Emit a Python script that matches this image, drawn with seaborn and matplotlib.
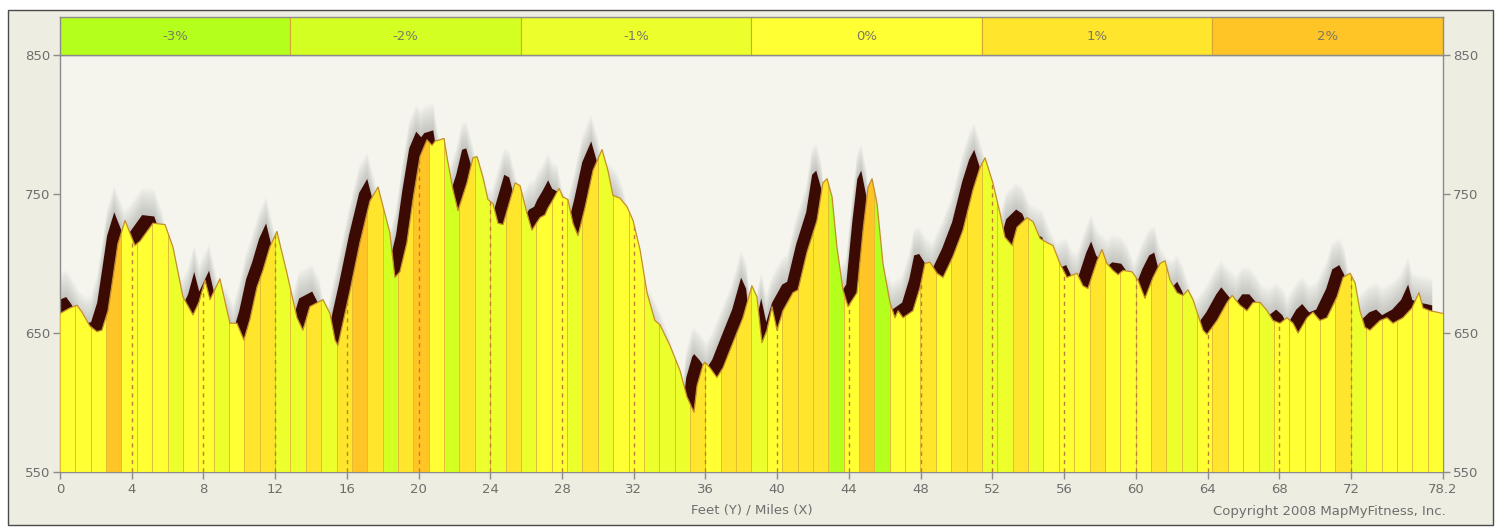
import matplotlib
matplotlib.use("Agg")
import matplotlib.pyplot as plt
from matplotlib.patches import Polygon, Rectangle
import numpy as np
import pandas as pd
import seaborn as sns

# elevation profile
miles = [0.00, 0.56, 0.95, 1.23, 1.67, 2.06, 2.34, 2.68, 2.96, 3.23, 3.63, 4.18, 4.46, 4.85,
         5.19, 5.86, 6.30, 6.86, 7.42, 7.75, 8.09, 8.37, 8.92, 9.48, 9.87, 10.26, 10.60,
         10.99, 11.32, 11.71, 12.10, 12.66, 13.22, 13.55, 13.94, 14.67, 15.06, 15.34, 15.50,
         16.17, 16.73, 17.29, 17.74, 18.40, 18.68, 18.96, 19.35, 19.69, 20.08, 20.47, 20.75,
         20.92, 21.19, 21.42, 21.58, 21.92, 22.20, 22.70, 23.03, 23.26, 23.59, 23.87, 24.15,
         24.43, 24.71, 25.38, 25.66, 26.05, 26.32, 26.77, 27.05, 27.22, 27.50, 27.83, 28.05,
         28.33, 28.61, 28.89, 29.28, 29.73, 30.23, 30.56, 30.84, 31.23, 31.62, 31.96, 32.35,
         32.74, 33.18, 33.46, 34.02, 34.58, 34.97, 35.36, 35.53, 35.86, 35.97, 36.25, 36.64,
         36.98, 37.53, 38.09, 38.59, 38.87, 39.15, 39.43, 39.71, 39.99, 40.32, 40.88, 41.16,
         41.66, 42.22, 42.55, 42.78, 43.06, 43.33, 43.67, 43.95, 44.45, 44.79, 45.07, 45.29,
         45.57, 45.90, 46.29, 46.57, 46.74, 47.02, 47.57, 47.97, 48.24, 48.52, 48.91, 49.25,
         49.80, 50.36, 50.92, 51.31, 51.59, 52.03, 52.43, 52.70, 53.10, 53.37, 53.93, 54.27,
         54.66, 55.05, 55.38, 55.77, 56.16, 56.72, 57.05, 57.33, 57.84, 58.11, 58.39, 58.73,
         59.01, 59.29, 59.79, 60.12, 60.51, 60.96, 61.35, 61.63, 61.91, 62.30, 62.63, 62.91,
         63.19, 63.75, 63.97, 64.53, 65.09, 65.37, 65.81, 66.20, 66.54, 66.93, 67.32, 67.65,
         68.04, 68.43, 68.77, 69.05, 69.55, 69.88, 70.27, 70.66, 71.22, 71.56, 71.95, 72.23,
         72.50, 72.78, 73.06, 73.62, 74.01, 74.34, 74.90, 75.40, 75.79, 76.02, 76.41, 76.80,
         77.13]
elevation = [664, 668, 670, 665, 655, 651, 652, 666, 690, 714, 731, 713, 716, 723,
             729, 728, 712, 676, 663, 672, 688, 674, 689, 657, 657, 645, 660,
             683, 695, 712, 723, 693, 661, 652, 669, 674, 664, 645, 641,
             680, 715, 745, 755, 722, 690, 694, 715, 746, 777, 789, 785,
             788, 789, 790, 777, 753, 738, 758, 776, 777, 762, 746, 743,
             729, 728, 758, 756, 736, 724, 733, 735, 740, 746, 754, 748,
             746, 729, 720, 740, 767, 782, 767, 749, 747, 741, 731, 710,
             679, 659, 656, 641, 623, 604, 593, 612, 627, 629, 625, 618,
             625, 643, 661, 684, 676, 643, 652, 669, 652, 666, 679, 681,
             708, 731, 758, 761, 748, 712, 681, 669, 679, 724, 755, 761,
             743, 700, 672, 661, 666, 661, 666, 683, 700, 701, 693, 690,
             705, 724, 753, 769, 776, 758, 736, 719, 713, 726, 733, 730,
             718, 715, 713, 700, 690, 693, 684, 682, 702, 710, 700, 695,
             692, 695, 694, 688, 675, 690, 700, 702, 688, 679, 677, 681,
             674, 652, 649, 659, 672, 677, 670, 666, 672, 672, 666, 659,
             657, 661, 657, 650, 661, 665, 659, 661, 676, 690, 693, 686,
             666, 654, 652, 659, 661, 657, 661, 668, 679, 668, 666, 665,
             664]

# grade (%) of each equal-length segment of the route
segment_grades = [0, 0, 0, 2, 0, 0, 0, -1, 0, 0,
                  -1, 0, 1, 1, -1, -1, 1, -1, 1, 2,
                  1, -2, 1, 2, 0, -2, 1, -1, -1, 1,
                  -1, 0, 0, -1, 1, -1, 0, 0, -1, -1,
                  -1, 1, 0, 1, 1, -1, 0, 1, 1, 1,
                  -3, 0, 2, -3, 0, 0, 1, 0, 1, 1,
                  -1, -1, 1, -1, 0, 0, 0, 1, 0, 0,
                  0, 1, -1, -1, 0, 1, 0, 0, -1, 0,
                  0, 0, 0, 1, -1, 0, 0, 0, 0, 0]

grade_levels = [-3, -2, -1, 0, 1, 2]
grade_labels = ["-3%", "-2%", "-1%", "0%", "1%", "2%"]
grade_colors = ["#B4FF1C", "#D4FF22", "#ECFF2C", "#FFFF33", "#FFE52C", "#FFC425"]

x_end = 77.13
x_ticks = [0, 4, 8, 12, 16, 20, 24, 28, 32, 36, 40, 44, 48, 52, 56, 60, 64, 68, 72, x_end]
x_tick_labels = ["0", "4", "8", "12", "16", "20", "24", "28", "32", "36", "40", "44",
                 "48", "52", "56", "60", "64", "68", "72", "78.2"]
y_ticks = [550, 650, 750, 850]

sns.set_style("white")
plt.rcParams["font.family"] = ["DejaVu Sans"]

label_col = "#6E6E6E"
fig = plt.figure(figsize=(14.95, 5.28), dpi=100)
fig.patch.set_facecolor("white")
fig.add_artist(Rectangle((0.0054, 0.0057), 0.9933, 0.9754, transform=fig.transFigure,
                         facecolor="#EDEDE1", edgecolor="#4A4A4A", lw=1, zorder=-5))

ax = fig.add_axes([0.0401, 0.1061, 0.9251, 0.7897])
ax.set_facecolor("#F5F5EE")
x = np.array(miles)
y = np.array(elevation)

# shadow: soft gray haze above, then a dark copy of the profile shifted up-left
dx, dy = 0.63, 6.2
for k in range(1, 16):
    ax.fill_between(x - dx, 550, y + dy + k * 1.3, color="#8A8A8A", alpha=0.033,
                    lw=0, zorder=1)
ax.fill_between(x - dx, 550, y + dy, color="#3B0A02", lw=0, zorder=2)

# profile area clipped into grade-coloured segments
clip = Polygon([(x[0], 550)] + list(zip(x, y)) + [(x[-1], 550)], closed=True,
               transform=ax.transData, facecolor="none", edgecolor="none")
seg_w = x_end / len(segment_grades)
seg_left = np.arange(len(segment_grades)) * seg_w
seg_colors = [grade_colors[grade_levels.index(g)] for g in segment_grades]
bars = ax.bar(seg_left, 300, width=seg_w, bottom=550, align="edge", color=seg_colors,
              edgecolor="#E2BE33", linewidth=0.7, zorder=3)
for b in bars:
    b.set_clip_path(clip)
vl = ax.vlines(x_ticks[1:-1], 550, 850, colors="#BF7F30", linestyles=(0, (3, 3)),
               lw=1, zorder=3.5)
vl.set_clip_path(clip)

prof = pd.DataFrame({"mile": miles, "feet": elevation})
sns.lineplot(data=prof, x="mile", y="feet", color="#C48E2C", lw=0.9, zorder=4, ax=ax)

ax.set_xlim(0, x_end)
ax.set_ylim(550, 850)
ax.set_xticks(x_ticks)
ax.set_xticklabels(x_tick_labels)
ax.set_yticks(y_ticks)
ax.set_xlabel("")
ax.set_ylabel("")
ax.tick_params(axis="both", colors="#8C8C8C", labelcolor=label_col, labelsize=9.5,
               length=5, width=1, direction="out")
ax.tick_params(axis="y", left=True, right=True, labelleft=True, labelright=True, pad=2)
ax.tick_params(axis="x", bottom=True, pad=3)
for s in ax.spines.values():
    s.set_color("#8C8C8C")
    s.set_linewidth(1)

# grade legend strip
lax = fig.add_axes([0.0401, 0.8958, 0.9251, 0.0720])
leg = pd.DataFrame({"grade": grade_labels, "v": [1] * 6})
sns.barplot(data=leg, x="grade", y="v", hue="grade", palette=grade_colors, width=1,
            saturation=1, legend=False, edgecolor="#D9A531", linewidth=0.8, ax=lax)
lax.set_xlim(-0.5, 5.5)
lax.set_ylim(0, 1)
for i, t in enumerate(grade_labels):
    lax.text(i, 0.5, t, ha="center", va="center", fontsize=9.5, color="#7A7A62")
lax.set_xticks([])
lax.set_yticks([])
lax.set_xlabel("")
lax.set_ylabel("")
for s in lax.spines.values():
    s.set_color("#8C8C8C")
    s.set_linewidth(1)

fig.text(0.5030, 0.034, "Feet (Y) / Miles (X)", ha="center", va="center",
         fontsize=9.5, color=label_col)
fig.text(0.9670, 0.031, "Copyright 2008 MapMyFitness, Inc.", ha="right", va="center",
         fontsize=9.5, color=label_col)

fig.savefig("out.png", dpi=100)
